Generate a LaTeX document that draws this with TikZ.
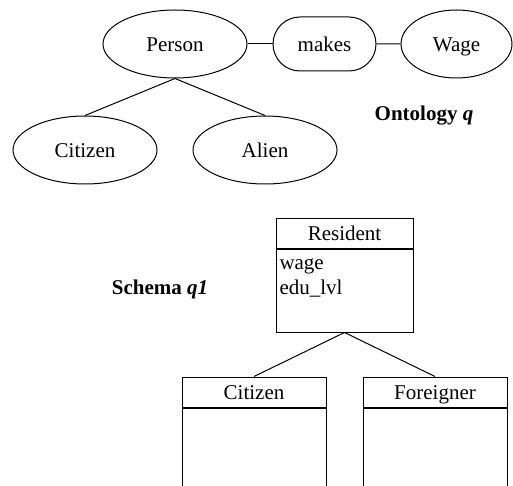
\documentclass[tikz,border=0pt]{standalone}
\usepackage{fontspec}
\setmainfont{Liberation Serif}
\usetikzlibrary{shapes.geometric,shapes.misc}
\begin{document}
\begin{tikzpicture}[x=1pt,y=-1pt,line width=1pt,
  every node/.style={font=\fontsize{21}{25}\selectfont,text height=17pt,text depth=2pt},
  ell/.style={draw,ellipse,inner sep=0pt,minimum width=144pt,minimum height=68pt},
  rel/.style={draw,rounded rectangle,inner sep=0pt,minimum width=103pt,minimum height=54pt},
  hdr/.style={draw,rectangle,inner sep=0pt,minimum height=30pt},
  body/.style={draw,rectangle,inner sep=0pt,anchor=north},
  attr/.style={anchor=west,inner sep=0pt},
  lbl/.style={inner sep=0pt}]
\clip (0,0) rectangle (513,486);
% Ontology
\node[ell] (person) at (175,44) {Person};
\node[rel] (makes) at (324.5,44) {makes};
\node[ell,minimum width=111pt] (wage) at (456.5,44) {Wage};
\node[ell] (citizen) at (85,150) {Citizen};
\node[ell] (alien) at (265,150) {Alien};
\node[lbl] (ont) at (424,113) {\bfseries Ontology \textit{q}};
\draw (person) -- (makes);
\draw (makes) -- (wage);
\draw (person.south) -- (citizen.north);
\draw (person.south) -- (alien.north);
% Schema
\node[hdr,minimum width=137pt] (resh) at (344.5,233) {Resident};
\node[body,minimum width=137pt,minimum height=83pt] (resb) at (resh.south) {};
\node[attr] (wageattr) at (279,262) {wage};
\node[attr] (edu) at (279,287) {edu\_lvl};
\node[lbl] (sch) at (160,287) {\bfseries Schema \textit{q1}};
\node[hdr,minimum width=144pt] (cith) at (254,392) {Citizen};
\node[body,minimum width=144pt,minimum height=100pt] (citb) at (cith.south) {};
\node[hdr,minimum width=144pt] (forh) at (435,392) {Foreigner};
\node[body,minimum width=144pt,minimum height=100pt] (forb) at (forh.south) {};
\draw (resb.south) -- (cith.north);
\draw (resb.south) -- (forh.north);
\end{tikzpicture}
\end{document}
